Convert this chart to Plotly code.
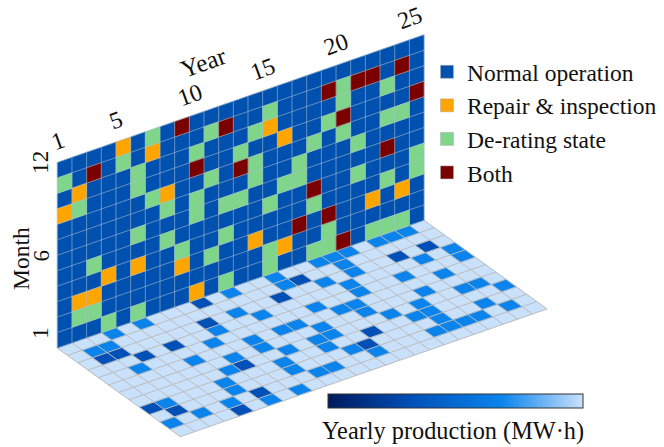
import plotly.graph_objects as go

# ---- data (year index 0-24, month row 0=top/12 ... 11=bottom/1) ----
STATE_NAMES = ["Normal operation", "Repair & inspection", "De-rating state", "Both"]
STATE_COLORS = ["#0050b0", "#ffa500", "#7fd68a", "#7a0000"]
REPAIR = [(0,3),(1,2),(1,9),(2,9),(3,8),(4,0),(5,8),(6,1),(7,4),(8,9),(9,11),(13,9),(14,2),
          (15,3),(15,10),(21,9),(23,9)]
DERATE = [(0,1),(1,3),(1,10),(2,7),(2,10),(3,11),(4,1),(5,2),(5,3),(5,6),(5,11),(6,0),(6,4),
          (7,5),(7,7),(8,8),(9,2),(9,5),(9,6),(10,1),(10,4),(10,9),(11,6),(11,8),(11,11),
          (12,3),(12,6),(13,2),(13,4),(13,5),(14,1),(14,7),(14,10),(14,11),(15,6),(16,5),
          (16,6),(17,4),(17,8),(17,11),(18,3),(18,10),(18,11),(19,1),(19,2),(19,4),(20,5),
          (20,7),(21,11),(22,2),(22,4),(22,8),(22,11),(23,4),(23,11),(24,7),(24,8)]
BOTH = [(2,1),(8,0),(9,3),(11,1),(12,4),(16,9),(17,7),(18,1),(18,9),(19,3),(19,11),(20,1),
        (21,1),(22,6),(23,1),(24,3)]
# floor: (year index, row away from the wall); everything else is the high-production level
FLOOR_MID = [(3,0),(1,1),(2,1),(2,4),(5,5),(8,3),(7,4),(5,0),(10,2),(11,3),(9,5),(9,6),(7,6),
             (6,7),(5,8),(5,9),(6,11),(4,10),(1,8),(2,10),(0,10),(23,0),(22,0),(21,0),(19,0),
             (18,0),(17,0),(14,0),(14,1),(16,2),(18,1),(18,2),(17,3),(17,4),(22,3),(20,4),
             (14,4),(15,5),(16,5),(16,6),(17,7),(18,8),(19,7),(20,6),(11,5),(12,5),(13,6),
             (13,7),(12,7),(12,8),(10,7),(13,9),(14,10),(11,0),(24,3),(24,4),(22,5),(23,7),
             (22,7),(24,8),(19,8),(22,9),(23,10),(21,10),(20,10),(19,10),(18,10),(19,9),
             (9,8),(11,10),(10,10),(9,9),(8,11)]
FLOOR_LOW = [(2,2),(1,2),(3,3),(5,3),(8,2),(7,7),(6,10),(4,11),(0,8),(1,9),(15,1),(21,2),
             (23,2),(13,2),(15,8),(14,9),(9,0)]
FLOOR_COLORS = ["#c9e1fb", "#0a84ec", "#0050b8"]
YEAR_TICKS = [1, 5, 10, 15, 20, 25]
MONTH_TICKS = [1, 6, 12]
N_YEARS, N_MONTHS = 25, 12
CB_STOPS = [[0, "#001a5c"], [0.33, "#0050b8"], [0.68, "#0a84ec"], [1, "#c9e1fb"]]

# ---- oblique projection of the box ----
OX, OY = 57.3, 348.0
UX, UY = 14.67, -5.11     # one year
VY = -15.46               # one month up the wall
WX, WY = 10.25, 7.39      # one row out on the floor

def wall(a, j):   # j measured from the top
    return OX + UX * a, OY + UY * a + VY * (N_MONTHS - j)
def floor(a, k):
    return OX + UX * a + WX * k, OY + UY * a + WY * k

def polys(cells, proj):
    xs, ys = [], []
    for a, b in cells:
        for p, q in [(a, b), (a + 1, b), (a + 1, b + 1), (a, b + 1), (a, b)]:
            x, y = proj(p, q)
            xs.append(x); ys.append(y)
        xs.append(None); ys.append(None)
    return xs, ys

def grid(proj, na, nb):
    xs, ys = [], []
    for a in range(na + 1):
        for p in [proj(a, 0), proj(a, nb), (None, None)]:
            xs.append(p[0]); ys.append(p[1])
    for b in range(nb + 1):
        for p in [proj(0, b), proj(na, b), (None, None)]:
            xs.append(p[0]); ys.append(p[1])
    return xs, ys

fig = go.Figure()
special = set(REPAIR) | set(DERATE) | set(BOTH)
normal = [(a, j) for a in range(N_YEARS) for j in range(N_MONTHS) if (a, j) not in special]

def fill_trace(cells, proj, color):
    x, y = polys(cells, proj)
    fig.add_trace(go.Scatter(x=x, y=y, mode="lines", fill="toself", fillcolor=color,
                             line=dict(width=0.4, color=color), showlegend=False, hoverinfo="skip"))

all_floor = [(a, k) for a in range(N_YEARS) for k in range(N_MONTHS)]
low, mid = set(FLOOR_LOW), set(FLOOR_MID)
fill_trace([c for c in all_floor if c not in low and c not in mid], floor, FLOOR_COLORS[0])
fill_trace(FLOOR_MID, floor, FLOOR_COLORS[1])
fill_trace(FLOOR_LOW, floor, FLOOR_COLORS[2])
gx, gy = grid(floor, N_YEARS, N_MONTHS)
fig.add_trace(go.Scatter(x=gx, y=gy, mode="lines", line=dict(width=1, color="#bcbcbc"),
                         showlegend=False, hoverinfo="skip"))

for cells, color in zip([normal, REPAIR, DERATE, BOTH], STATE_COLORS):
    fill_trace(cells, wall, color)
gx, gy = grid(wall, N_YEARS, N_MONTHS)
fig.add_trace(go.Scatter(x=gx, y=gy, mode="lines", line=dict(width=1, color="rgba(165,190,205,0.6)"),
                         showlegend=False, hoverinfo="skip"))

for name, color in zip(STATE_NAMES, STATE_COLORS):
    fig.add_trace(go.Scatter(x=[None], y=[None], mode="markers", name=name, legendgroup=name,
                             marker=dict(symbol="square", size=13, color=color,
                                         line=dict(width=0.5, color="#aaaaaa"))))

# hidden carrier of the colour bar
fig.add_trace(go.Scatter(
    x=[OX, OX], y=[OY, OY], mode="markers", showlegend=False, hoverinfo="skip",
    marker=dict(size=1, opacity=0, color=[0, 1], cmin=0, cmax=1, colorscale=CB_STOPS,
                showscale=True,
                colorbar=dict(orientation="h", x=455 / 664, xanchor="center", y=1 - 408.5 / 447,
                              yanchor="bottom", len=255, lenmode="pixels", thickness=14,
                              thicknessmode="pixels", xpad=0, ypad=0, ticks="", showticklabels=False,
                              outlinecolor="#333333", outlinewidth=1))))

SERIF = "Liberation Serif, Times New Roman, serif"
def label(text, x, y, angle=0, size=24):
    fig.add_annotation(x=x, y=y, text=text, textangle=angle, showarrow=False,
                       font=dict(family=SERIF, size=size, color="#111111"),
                       xanchor="center", yanchor="middle")

for yr in YEAR_TICKS:
    x, y = wall(yr - 0.5, 0)
    label(str(yr), x - 7, y - 19, angle=-20)
label("Year", 203, 62, angle=-20, size=25)
for m in MONTH_TICKS:
    x, y = wall(0.5, N_MONTHS - m + 0.5)
    label(str(m), 41, y - 5, angle=-90, size=23)
label("Month", 21, 259, angle=-90, size=23.5)
label("Yearly production (MW·h)", 453, 431, size=24.3)

fig.update_layout(
    width=664, height=447, margin=dict(l=0, r=0, t=0, b=0),
    paper_bgcolor="white", plot_bgcolor="white",
    xaxis=dict(range=[0, 664], visible=False),
    yaxis=dict(range=[447, 0], visible=False),
    legend=dict(x=427 / 664, y=1 - 50 / 447, xanchor="left", yanchor="top",
                font=dict(family=SERIF, size=23.5, color="#111111"),
                tracegroupgap=0, bgcolor="rgba(0,0,0,0)"),
)
fig.write_html("out.html", config={"displayModeBar": False},
               post_script="document.body.style.margin='0';document.body.style.overflow='hidden';")
